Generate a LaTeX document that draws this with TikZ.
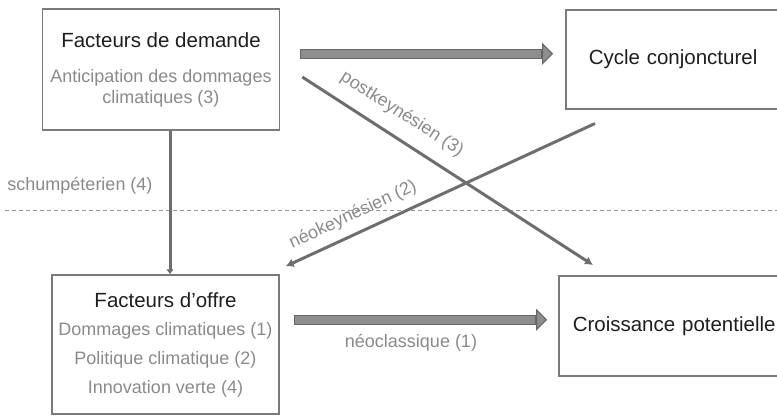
\documentclass[tikz,border=0pt]{standalone}
\usepackage{fontspec}
\setmainfont{Liberation Sans}
\usetikzlibrary{positioning,calc,arrows.meta}

\definecolor{boxedge}{HTML}{7A7A7A}
\definecolor{txtdark}{HTML}{1E1E1E}
\definecolor{txtgray}{HTML}{8A8A8A}
\definecolor{linkgray}{HTML}{6E6E6E}
\definecolor{fatfill}{HTML}{8E8E8E}
\definecolor{fatedge}{HTML}{666666}

\tikzset{
  factorbox/.style={draw=boxedge, line width=1.5pt, rectangle, align=center,
    text=txtgray, font=\fontsize{18}{21}\selectfont},
  resultbox/.style={draw=boxedge, line width=1.5pt, rectangle, anchor=north west,
    text=txtdark, align=left, font=\fontsize{20.5}{24}\selectfont},
  link/.style={draw=linkgray, line width=3pt, -{Latex[length=8pt,width=9pt]}},
  fatarrow/.style={draw=fatedge, line width=10pt,
    -{Triangle[length=11pt,width=22pt,line width=1pt,fill=fatfill]},
    postaction={draw=fatfill, line width=7.5pt, shorten >=12pt, shorten <=1.2pt, -}},
  linklabel/.style={text=txtgray, font=\fontsize{18}{21}\selectfont}
}
\newcommand{\headline}[1]{{\color{txtdark}\fontsize{20.5}{21}\selectfont #1}}

\begin{document}
\begin{tikzpicture}[x=1pt, y=-1pt]
    \useasboundingbox (0,0) rectangle (777,418);
    \clip (0,0) rectangle (777,418);

    % separation line
    \draw[boxedge!80, line width=0.8pt, dash pattern=on 4pt off 3pt] (5,210) -- (777,210);

    % factors
    \node[factorbox, minimum width=237pt, minimum height=121pt] (demand) at (161,69.5)
        {\headline{Facteurs de demande}\\[14pt]Anticipation des dommages\\climatiques (3)};
    \node[factorbox, minimum width=227pt, minimum height=139pt,
        font=\fontsize{18}{29}\selectfont] (supply) at (165.5,344.5)
        {\headline{Facteurs d’offre}\\[-1pt]Dommages climatiques (1)\\Politique climatique (2)\\Innovation verte (4)};

    % outcomes
    \node[resultbox, inner xsep=23pt, text width=214pt, minimum height=99pt] (cycle) at (565,9)
        {Cycle conjoncturel};
    \node[resultbox, inner xsep=14pt, text width=232pt, minimum height=100pt] (growth) at (558,275)
        {Croissance potentielle};

    % channels
    \draw[fatarrow] ([xshift=20pt,yshift=5.5pt]demand.east |- cycle.west)
        -- ([xshift=-12pt,yshift=5.5pt]cycle.west);
    \draw[fatarrow] ([xshift=14pt,yshift=6pt]supply.east |- growth.west)
        -- ([xshift=-11pt,yshift=6pt]growth.west);
    \draw[link, -{Latex[length=5pt,width=8pt]}] ([xshift=9pt]demand.south) -- ([xshift=4.5pt]supply.north);
    \draw[link] ([xshift=22pt,yshift=-7.5pt]demand.east) -- ([xshift=35pt,yshift=10pt]growth.north west);
    \draw[link] ([xshift=30pt,yshift=-14pt]cycle.south west) -- ([xshift=6pt,yshift=8pt]supply.north east);

    % labels
    \node[linklabel] (schump) at (80,186) {schumpéterien (4)};
    \node[linklabel] (neoclass) at (411,343) {néoclassique (1)};
    \node[linklabel, rotate=-32.6] (postk) at (402,114) {postkeynésien (3)};
    \node[linklabel, rotate=25] (neok) at (353,215) {néokeynésien (2)};
\end{tikzpicture}
\end{document}
